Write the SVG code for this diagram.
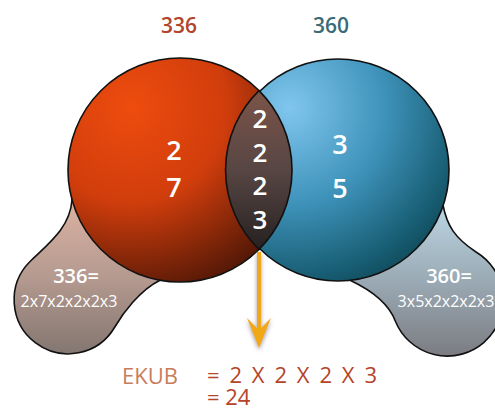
<svg xmlns="http://www.w3.org/2000/svg" width="495" height="412" viewBox="0 0 495 412">
<defs>
<radialGradient id="gRed" cx="0.28" cy="0.22" r="0.95" fx="0.28" fy="0.22">
<stop offset="0" stop-color="#ee4c0e"/>
<stop offset="0.45" stop-color="#d03d0c"/>
<stop offset="0.78" stop-color="#742208"/>
<stop offset="1" stop-color="#3a1006"/>
</radialGradient>
<radialGradient id="gBlue" cx="0.28" cy="0.22" r="0.95" fx="0.28" fy="0.22">
<stop offset="0" stop-color="#80c6ee"/>
<stop offset="0.45" stop-color="#3f93bb"/>
<stop offset="0.8" stop-color="#185e74"/>
<stop offset="1" stop-color="#0c3f4c"/>
</radialGradient>
<linearGradient id="gLens" x1="0" y1="0" x2="0" y2="1">
<stop offset="0" stop-color="#7c5448"/>
<stop offset="0.5" stop-color="#574644"/>
<stop offset="1" stop-color="#262120"/>
</linearGradient>
<linearGradient id="gBlobL" x1="0" y1="0" x2="0" y2="1">
<stop offset="0" stop-color="#dcb2a2"/>
<stop offset="0.5" stop-color="#b59a90"/>
<stop offset="1" stop-color="#837670"/>
</linearGradient>
<linearGradient id="gBlobR" x1="0" y1="0" x2="0" y2="1">
<stop offset="0" stop-color="#bcd6e4"/>
<stop offset="0.5" stop-color="#9aaab4"/>
<stop offset="1" stop-color="#7c7c82"/>
</linearGradient>
<filter id="shadow" x="-50%" y="-20%" width="200%" height="160%">
<feDropShadow dx="0" dy="2" stdDeviation="2" flood-color="#5a4a6a" flood-opacity="0.6"/>
</filter>
</defs>
<style>
.edge{stroke:#111;stroke-width:1.6}
.t{font-family:"Open Sans","DejaVu Sans",sans-serif;font-weight:600;text-anchor:middle}
.n{font-family:"Open Sans","DejaVu Sans",sans-serif;font-weight:400;text-anchor:middle;font-size:16px}
.w{fill:#ffffff}
.big{font-size:27px}
.res{font-family:"Open Sans","DejaVu Sans",sans-serif;font-size:22px}
</style>

<g id="node-336">
<path class="edge" fill="url(#gBlobL)" d="M 72 200 C 70 228, 48 244, 29.8 261.8 A 54 54 0 1 0 114.8 327 C 123 313, 140 290, 160 280.2 L 72 200 Z"/>
<circle class="edge" cx="180" cy="170" r="112" fill="url(#gRed)"/>
<text class="t" x="179" y="33" font-size="21" fill="#b0452a">336</text>
<text class="t w big" x="174" y="160">2</text>
<text class="t w big" x="174" y="197">7</text>
<text class="t w" x="76" y="283" font-size="20">336=</text>
<text class="n w" x="69" y="307">2x7x2x2x2x3</text>
</g>

<g id="node-360">
<path class="edge" fill="url(#gBlobR)" d="M 443 205 C 447 226, 455 238, 476 252 A 56 56 0 1 1 395.4 321.2 C 390 307, 375 292, 350 280.3 L 443 205 Z"/>
<circle class="edge" cx="338" cy="170" r="111" fill="url(#gBlue)"/>
<text class="t" x="331" y="33" font-size="21" fill="#3a6a77">360</text>
<text class="t w big" x="340" y="154">3</text>
<text class="t w big" x="340" y="198">5</text>
<text class="t w" x="449" y="283" font-size="20">360=</text>
<text class="n w" x="446" y="307">3x5x2x2x2x3</text>
</g>

<g id="node-common">
<path class="edge" fill="url(#gLens)" d="M 259 90.6 A 112 112 0 0 1 259 249.4 A 111 111 0 0 1 259 90.6 Z"/>
<text class="t w" font-size="26" x="260" y="128">2<tspan x="260" y="162">2</tspan><tspan x="260" y="195">2</tspan><tspan x="260" y="229">3</tspan></text>
</g>

<g id="connectors">
<g filter="url(#shadow)">
<line x1="259" y1="252" x2="259" y2="336" stroke="#f0a818" stroke-width="4"/>
<polygon points="247,318 259,330 271,318 259,348" fill="#f0a818"/>
</g>
</g>

<g id="node-result">
<text class="res" x="122" y="384" fill="#c97c5c" font-size="24">EKUB</text>
<text class="res" fill="#b4442a"><tspan x="207" y="383" textLength="170" lengthAdjust="spacing">= 2 X 2 X 2 X 3</tspan><tspan x="207" y="405">= 24</tspan></text>
</g>
</svg>
